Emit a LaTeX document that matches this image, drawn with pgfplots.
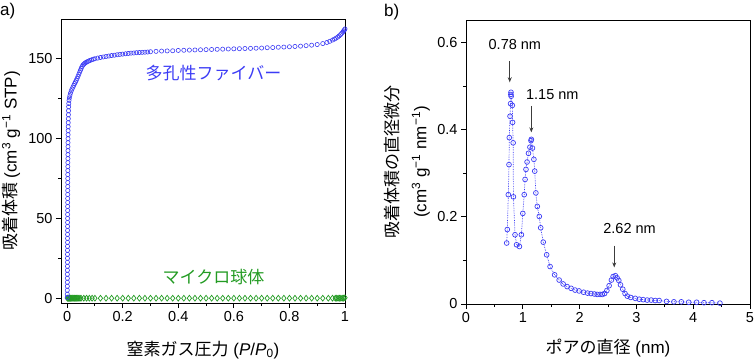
\documentclass[border=0pt]{standalone}
\usepackage{fontspec}
\setmainfont{Liberation Sans}
\newfontfamily\jp{Noto Sans CJK JP}
\usepackage{pgfplots}
\pgfplotsset{compat=1.18}
\usetikzlibrary{arrows.meta}
\definecolor{cblue}{RGB}{60,60,245}
\definecolor{cgreen}{RGB}{35,155,35}
\definecolor{arr}{RGB}{60,60,60}
\begin{document}
\begin{tikzpicture}
\useasboundingbox (0,0) rectangle (754pt,362pt);
\pgfplotsset{
  every axis/.append style={
    scale only axis, width=284pt, height=284pt,
    axis line style={line width=0.9pt},
    tick align=outside, xtick pos=bottom, ytick pos=left,
    major tick length=5pt, minor tick length=3pt,
    every tick/.style={black, line width=0.9pt},
    minor x tick num=1, minor y tick num=1,
    /pgf/number format/assume math mode=true,
    ticklabel style={font=\fontsize{14.5}{16}\selectfont},
    label style={font=\fontsize{17}{28}\selectfont},
    clip=false,
  }
}
\node[anchor=north west, font=\fontsize{17}{20}\selectfont, inner sep=0pt] at (0pt,359pt) {a)};
\node[anchor=north west, font=\fontsize{17}{20}\selectfont, inner sep=0pt] at (384pt,358pt) {b)};
% ---------------- left ----------------
\begin{axis}[
  at={(61pt,59pt)}, anchor=south west,
  xmin=-0.022, xmax=1.0, ymin=-3, ymax=175,
  xtick={0,0.2,0.4,0.6,0.8,1}, ytick={0,50,100,150},
  xlabel={{\jp 窒素ガス圧力} (\textit{P}/\textit{P}\textsubscript{0})},
  ylabel={{\jp 吸着体積} (cm\textsuperscript{3} g\textsuperscript{−1} STP)},
  xlabel style={at={(axis description cs:0.5,-0.165)}, anchor=center},
  ylabel style={at={(axis description cs:-0.176,0.5)}, anchor=center},
]
\addplot[only marks, mark=diamond, mark size=2.9pt, color=cgreen, mark options={line width=0.7pt}] coordinates {
(0.001,0) (0.003,0) (0.005,0) (0.007,0) (0.009,0) (0.011,0) (0.013,0) (0.015,0) (0.018,0) (0.021,0) (0.024,0) (0.027,0) (0.030,0) (0.034,0) (0.038,0) (0.042,0) (0.046,0) (0.050,0) (0.06,0) (0.07,0) (0.08,0) (0.09,0) (0.10,0)
(0.12,0) (0.14,0) (0.16,0) (0.18,0) (0.20,0) (0.22,0) (0.24,0) (0.26,0) (0.28,0) (0.30,0) (0.32,0) (0.34,0) (0.36,0) (0.38,0) (0.40,0) (0.42,0) (0.44,0) (0.46,0) (0.48,0) (0.50,0) (0.52,0) (0.54,0) (0.56,0) (0.58,0) (0.60,0) (0.62,0) (0.64,0) (0.66,0) (0.68,0) (0.70,0) (0.72,0) (0.74,0) (0.76,0) (0.78,0) (0.80,0) (0.82,0) (0.84,0) (0.86,0) (0.88,0) (0.90,0) (0.92,0) (0.94,0) (0.955,0) (0.965,0) (0.97,0) (0.975,0) (0.98,0) (0.985,0) (0.99,0) (0.995,0) (1.0,0.3)
};
\addplot[only marks, mark=o, mark size=2.1pt, color=cblue, mark options={line width=0.6pt}] coordinates {
(0.0005,0.5) (0.0006,2.5) (0.0007,5) (0.0008,7.5) (0.0009,10) (0.001,12.5) (0.001,15) (0.0011,17.5) (0.0012,20) (0.0012,22.5) (0.0013,25) (0.0013,27.5) (0.0014,30) (0.0014,32.5) (0.0015,35) (0.0015,37.5) (0.0016,40) (0.0016,42.5) (0.0017,45) (0.0017,47.5) (0.0018,50) (0.0018,52.5) (0.0019,55) (0.0019,57.5) (0.002,60) (0.002,62.5) (0.0021,65) (0.0021,67.5) (0.0022,70) (0.0022,72.5) (0.0023,75) (0.0024,77.5) (0.0025,80) (0.0026,82.5) (0.0027,85) (0.0028,87.5) (0.0029,90) (0.003,92.5) (0.0031,95) (0.0032,97.5) (0.0033,100) (0.0035,102.5) (0.0037,105) (0.0039,107.5) (0.0041,110) (0.0044,112.5) (0.0047,115) (0.005,117.5) (0.0055,120) (0.006,122) (0.007,124) (0.008,125.5) (0.010,127) (0.012,128.5) (0.015,130) (0.018,131.2) (0.021,132.3) (0.024,133.4) (0.027,134.5) (0.030,135.5) (0.033,136.6) (0.036,137.8) (0.039,139) (0.042,140.3) (0.045,141.6) (0.048,142.9) (0.051,144.2) (0.054,145.3) (0.057,146.1) (0.060,146.7) (0.064,147.3) (0.068,147.8) (0.072,148.2) (0.077,148.6) (0.082,149) (0.088,149.4) (0.094,149.8) (0.10,150.1) (0.11,150.5) (0.12,150.9) (0.13,151.2) (0.14,151.5) (0.15,151.8) (0.16,152.1) (0.17,152.3) (0.18,152.6) (0.19,152.8) (0.20,153) (0.21,153.2) (0.22,153.4) (0.23,153.6) (0.24,153.7) (0.25,153.9) (0.26,154) (0.27,154.1) (0.28,154.2) (0.29,154.3) (0.30,154.5)
(0.32,154.7) (0.34,154.9) (0.36,155) (0.38,155.1) (0.40,155.3) (0.42,155.4) (0.44,155.5) (0.46,155.6) (0.48,155.7) (0.50,155.8) (0.52,155.9) (0.54,156) (0.56,156.1) (0.58,156.2) (0.60,156.3) (0.62,156.4) (0.64,156.5) (0.66,156.6) (0.68,156.7) (0.70,156.8) (0.72,157) (0.74,157.1) (0.76,157.3) (0.78,157.4) (0.80,157.6) (0.82,157.8) (0.84,158) (0.86,158.3) (0.88,158.6) (0.90,159) (0.92,159.6) (0.935,160.3) (0.945,161) (0.955,161.8) (0.962,162.4) (0.968,163) (0.974,163.7) (0.979,164.4) (0.984,165.2) (0.988,166) (0.992,166.8) (0.995,167.5) (0.998,168.2) (1.0,168.8)
};
\node[font=\jp\fontsize{17}{20}\selectfont, text=cblue] at (axis cs:0.527,141) {多孔性ファイバー};
\node[font=\jp\fontsize{17}{20}\selectfont, text=cgreen] at (axis cs:0.527,13) {マイクロ球体};
\end{axis}
% ---------------- right ----------------
\begin{axis}[
  at={(466pt,58pt)}, anchor=south west,
  xmin=0, xmax=5, ymin=0, ymax=0.652,
  xtick={0,1,2,3,4,5}, ytick={0,0.2,0.4,0.6},
  xlabel={{\jp ポアの直径} (nm)},
  ylabel={{\jp 吸着体積の直径微分}\\(cm\textsuperscript{3} g\textsuperscript{−1} nm\textsuperscript{−1})},
  xlabel style={at={(axis description cs:0.5,-0.155)}, anchor=center},
  ylabel style={at={(axis description cs:-0.208,0.5)}, anchor=center, align=center},
]
\addplot[color=cblue, densely dotted, line width=0.7pt, mark=o, mark size=2.4pt, mark options={solid, line width=0.7pt}] coordinates {
(0.716,0.140) (0.727,0.171) (0.745,0.251) (0.757,0.320) (0.762,0.382) (0.775,0.431) (0.785,0.460) (0.790,0.481) (0.792,0.486) (0.795,0.477) (0.815,0.456) (0.820,0.417) (0.830,0.370) (0.835,0.246) (0.863,0.159) (0.890,0.136) (0.940,0.132) (0.975,0.159) (1.000,0.208) (1.025,0.251) (1.040,0.286) (1.056,0.309) (1.075,0.326) (1.100,0.346) (1.125,0.360) (1.144,0.375) (1.150,0.378) (1.170,0.358) (1.195,0.332) (1.210,0.305) (1.230,0.255) (1.255,0.224) (1.290,0.201) (1.315,0.175) (1.360,0.142) (1.420,0.113) (1.480,0.086) (1.560,0.067) (1.640,0.055) (1.710,0.046) (1.780,0.040) (1.850,0.036) (1.920,0.032) (1.990,0.030) (2.070,0.027) (2.140,0.025) (2.200,0.024) (2.260,0.023) (2.310,0.022) (2.360,0.022) (2.400,0.022) (2.440,0.024) (2.480,0.031) (2.520,0.042) (2.560,0.055) (2.590,0.063) (2.630,0.065) (2.660,0.060) (2.690,0.054) (2.720,0.044) (2.760,0.034) (2.800,0.024) (2.840,0.018) (2.900,0.015) (2.980,0.013) (3.050,0.011) (3.120,0.010) (3.190,0.009) (3.260,0.009) (3.330,0.008) (3.400,0.008) (3.530,0.006) (3.660,0.005) (3.790,0.005) (3.920,0.004) (4.060,0.004) (4.190,0.003) (4.330,0.003) (4.470,0.002)
};
\draw[arr, line width=1.1pt, -{Stealth[length=5pt,width=4pt]}] (axis cs:0.77,0.557) -- (axis cs:0.77,0.509);
\draw[arr, line width=1.1pt, -{Stealth[length=5pt,width=4pt]}] (axis cs:1.15,0.455) -- (axis cs:1.15,0.394);
\draw[arr, line width=1.1pt, -{Stealth[length=5pt,width=4pt]}] (axis cs:2.61,0.134) -- (axis cs:2.61,0.084);
\node[font=\fontsize{14.5}{17}\selectfont] at (axis cs:0.86,0.596) {0.78 nm};
\node[font=\fontsize{14.5}{17}\selectfont] at (axis cs:1.52,0.481) {1.15 nm};
\node[font=\fontsize{14.5}{17}\selectfont] at (axis cs:2.88,0.173) {2.62 nm};
\end{axis}
\end{tikzpicture}
\end{document}
